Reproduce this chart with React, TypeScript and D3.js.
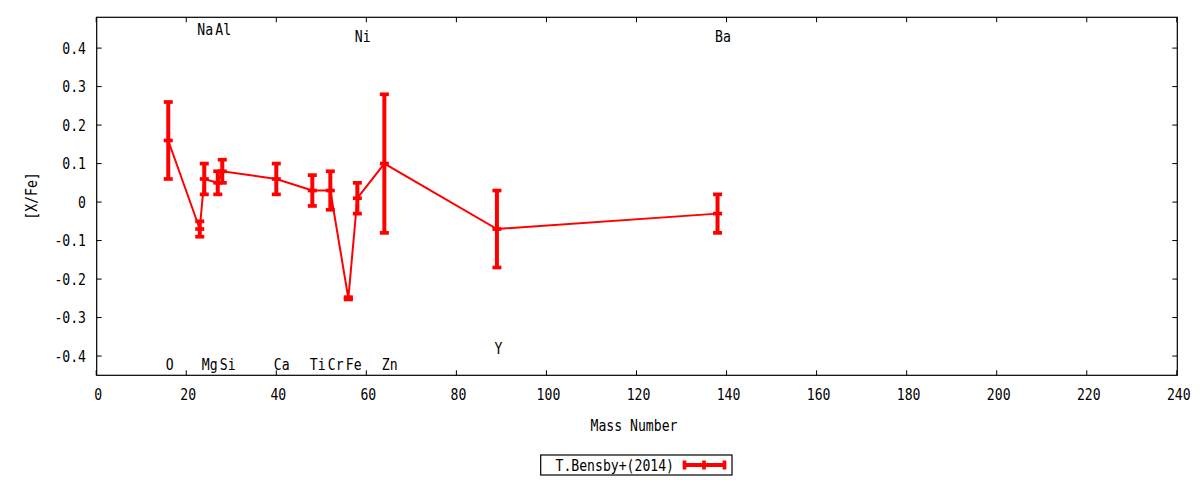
import * as d3 from "d3";
import React from "react";

// Bensby+(2014) abundances
const masses = [16, 23, 24, 27, 28, 40, 48, 52, 56, 58, 64, 89, 138];
const values = [0.16, -0.07, 0.06, 0.05, 0.08, 0.06, 0.03, 0.03, -0.25, 0.01, 0.1, -0.07, -0.03];
const errors = [0.1, 0.02, 0.04, 0.03, 0.03, 0.04, 0.04, 0.05, 0.003, 0.04, 0.18, 0.1, 0.05];

// element labels
const elements = ["O", "Na", "Mg", "Al", "Si", "Ca", "Ti", "Cr", "Fe", "Ni", "Zn", "Y", "Ba"];
const labelY = [-0.42, 0.45, -0.42, 0.45, -0.42, -0.42, -0.42, -0.42, -0.42, 0.43, -0.42, -0.38, 0.43];

const xTicks = [0, 20, 40, 60, 80, 100, 120, 140, 160, 180, 200, 220, 240];
const yTicks = [-0.4, -0.3, -0.2, -0.1, 0, 0.1, 0.2, 0.3, 0.4];
const legendLabel = "T.Bensby+(2014)";

const W = 1200;
const H = 480;
const RED = "#ff0000";
const FONT = "'DejaVu Sans Mono', monospace";
const CHAR_W = 7.9;

const T: React.FC<{ x: number; y: number; s: string; anchor?: string; transform?: string }> = ({
  x, y, s, anchor = "middle", transform,
}) => (
  <text
    x={x}
    y={y}
    dy="0.36em"
    textAnchor={anchor}
    transform={transform}
    textLength={s.length * CHAR_W}
    lengthAdjust="spacingAndGlyphs"
    fontFamily={FONT}
    fontSize={16}
    fill="#000"
  >
    {s}
  </text>
);

export default function App() {
  const left = 96.7, right = 1177.3, top = 17.3, bottom = 375.3;
  const x = d3.scaleLinear().domain([0, 240]).range([left - 0.5, right - 0.5]);
  const y = d3.scaleLinear().domain([-0.45, 0.48]).range([bottom, top]);

  const pts = masses.map((m, i) => ({ m, v: values[i], e: errors[i] }));
  const line = d3.line<{ m: number; v: number }>().x((d) => x(d.m)).y((d) => y(d.v));
  const tl = 5; // tick length
  const cap = 4.5;

  return (
    <svg width={W} height={H} style={{ position: "fixed", left: 0, top: 0, background: "#fff" }}>
      <rect width={W} height={H} fill="#fff" />

      {/* ticks on all four sides */}
      {xTicks.map((t) => (
        <g key={"x" + t}>
          <line x1={x(t)} x2={x(t)} y1={bottom} y2={bottom - tl} stroke="#000" />
          <line x1={x(t)} x2={x(t)} y1={top} y2={top + tl} stroke="#000" />
          <T x={x(t) + 2} y={394} s={String(t)} />
        </g>
      ))}
      {yTicks.map((t) => (
        <g key={"y" + t}>
          <line x1={left} x2={left + tl} y1={y(t)} y2={y(t)} stroke="#000" />
          <line x1={right} x2={right - tl} y1={y(t)} y2={y(t)} stroke="#000" />
          <T x={86} y={y(t)} s={t === 0 ? "0" : t.toFixed(1)} anchor="end" />
        </g>
      ))}
      <rect x={left} y={top} width={right - left} height={bottom - top} fill="none" stroke="#000" strokeWidth={1.2} />

      {/* axis titles */}
      <T x={634} y={425} s="Mass Number" />
      <T x={31} y={196} s="[X/Fe]" transform="rotate(-90 31 196)" />

      {/* element labels */}
      {elements.map((el, i) => (
        <T key={el} x={x(masses[i]) - 2.5} y={y(labelY[i])} s={el} anchor="start" />
      ))}

      {/* connecting line */}
      <path d={line(pts) ?? ""} fill="none" stroke={RED} strokeWidth={2} />

      {/* error bars */}
      {pts.map((p) => (
        <g key={p.m} stroke={RED}>
          <line x1={x(p.m)} x2={x(p.m)} y1={y(p.v + p.e)} y2={y(p.v - p.e)} strokeWidth={4} />
          <line x1={x(p.m) - cap} x2={x(p.m) + cap} y1={y(p.v + p.e)} y2={y(p.v + p.e)} strokeWidth={3.7} />
          <line x1={x(p.m) - cap} x2={x(p.m) + cap} y1={y(p.v - p.e)} y2={y(p.v - p.e)} strokeWidth={3.7} />
          <line x1={x(p.m) - cap} x2={x(p.m) + cap} y1={y(p.v)} y2={y(p.v)} strokeWidth={3.7} />
        </g>
      ))}

      {/* legend */}
      <rect x={540.7} y={455} width={191.3} height={20} fill="#fff" stroke="#000" strokeWidth={1.2} />
      <T x={674} y={465} s={legendLabel} anchor="end" />
      <g stroke={RED}>
        <line x1={683} x2={726} y1={465} y2={465} strokeWidth={4} />
        <line x1={684.5} x2={684.5} y1={460.5} y2={469.5} strokeWidth={3.7} />
        <line x1={724.5} x2={724.5} y1={460.5} y2={469.5} strokeWidth={3.7} />
        <line x1={704} x2={704} y1={460.5} y2={469.5} strokeWidth={3.7} />
      </g>
    </svg>
  );
}
